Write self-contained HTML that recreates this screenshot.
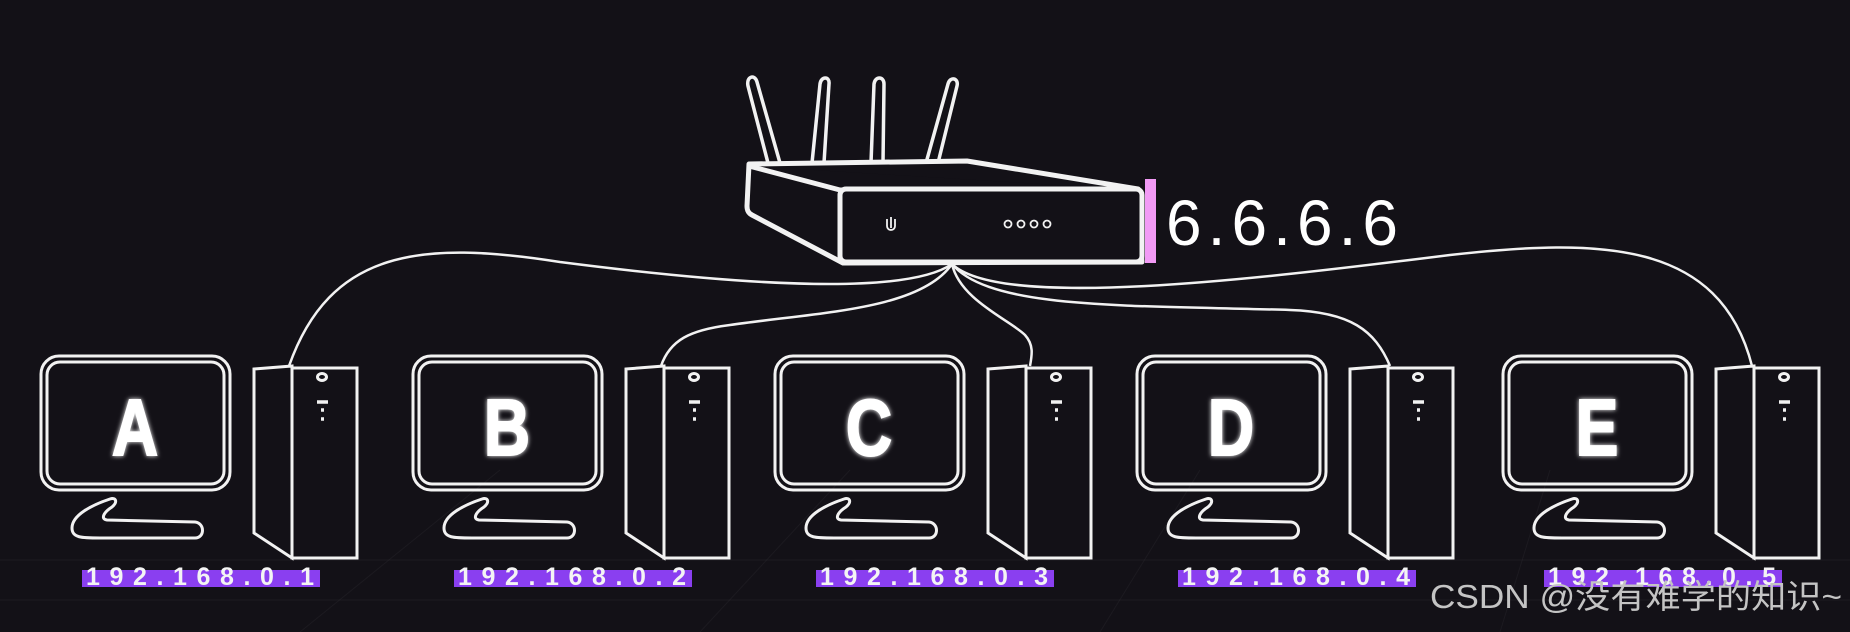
<!DOCTYPE html>
<html><head><meta charset="utf-8"><style>
html,body{margin:0;padding:0;background:#131117;}
svg{display:block}
</style></head><body>
<svg width="1850" height="632" viewBox="0 0 1850 632" xmlns="http://www.w3.org/2000/svg">
<defs>
<filter id="glow" x="-50%" y="-50%" width="200%" height="200%"><feGaussianBlur stdDeviation="2.5" result="b"/><feMerge><feMergeNode in="b"/><feMergeNode in="SourceGraphic"/></feMerge></filter>
<g id="pc" fill="none" stroke="#f2f2f2">
<rect x="41" y="356" width="189" height="134" rx="18" stroke-width="3"/>
<rect x="47" y="362" width="177" height="122" rx="13" stroke-width="3"/>
<path d="M110 499 C92 505 72 515 72 528 C72 538 82 538 100 538 L195 538 C205 538 205 523 195 522 L107 520 C100 519 104 512 112 507 C118 502 116 497 110 499 Z" stroke-width="3"/>
<path d="M254 369 L292 366 L292 558 L254 533 Z" stroke-width="3"/>
<rect x="292" y="368" width="65" height="190" stroke-width="3"/>
<ellipse cx="322" cy="377" rx="4.5" ry="3.5" stroke-width="3"/>
<line x1="317" y1="402" x2="328" y2="402" stroke-width="3.5"/>
<line x1="321" y1="410" x2="324" y2="410" stroke-width="3.5"/>
<line x1="321" y1="419" x2="324" y2="419" stroke-width="3.5"/>
<rect x="82" y="570" width="238" height="17" fill="#8a3ff0" stroke="none"/>
</g>
</defs>
<g stroke="#ffffff" stroke-opacity="0.04" stroke-width="1">
<line x1="300" y1="632" x2="500" y2="470"/><line x1="700" y1="632" x2="850" y2="470"/><line x1="1100" y1="632" x2="1200" y2="470"/><line x1="1500" y1="632" x2="1550" y2="470"/>
<line x1="0" y1="600" x2="1850" y2="600"/><line x1="0" y1="560" x2="1850" y2="560"/>
</g>
<!-- cables -->
<g fill="none" stroke="#f2f2f2" stroke-width="2.5">
<path d="M952 264 C900 300 700 280 560 262 C420 240 330 250 289 366"/>
<path d="M952 264 C920 310 820 312 730 325 C690 330 670 340 661 366"/>
<path d="M952 264 C960 300 1010 320 1025 335 C1034 345 1032 355 1030 366"/>
<path d="M952 264 C990 310 1130 305 1290 310 C1350 312 1375 330 1390 366"/>
<path d="M952 264 C1000 310 1250 280 1450 255 C1600 238 1720 240 1752 366"/>
</g>
<use href="#pc"/>
<use href="#pc" transform="translate(372,0)"/>
<use href="#pc" transform="translate(734,0)"/>
<use href="#pc" transform="translate(1096,0)"/>
<use href="#pc" transform="translate(1462,0)"/>
<g font-family="Liberation Sans, sans-serif" font-weight="bold" font-size="80" fill="#fff" stroke="#fff" stroke-width="2" filter="url(#glow)" text-anchor="middle">
<text transform="translate(135,455) scale(0.8,1)">A</text>
<text transform="translate(507,455) scale(0.8,1)">B</text>
<text transform="translate(869,455) scale(0.8,1)">C</text>
<text transform="translate(1231,455) scale(0.8,1)">D</text>
<text transform="translate(1597,455) scale(0.8,1)">E</text>
</g>
<g font-family="Liberation Sans, sans-serif" font-weight="bold" font-size="25" fill="#f4f4f4">
<text x="86" y="585" textLength="228" lengthAdjust="spacing">192.168.0.1</text>
<text x="458" y="585" textLength="228" lengthAdjust="spacing">192.168.0.2</text>
<text x="820" y="585" textLength="228" lengthAdjust="spacing">192.168.0.3</text>
<text x="1182" y="585" textLength="228" lengthAdjust="spacing">192.168.0.4</text>
<text x="1548" y="585" textLength="228" lengthAdjust="spacing">192.168.0.5</text>
</g>
<!-- router -->
<g fill="none" stroke="#f2f2f2" stroke-width="3.5" stroke-linejoin="round">
<path d="M768 163 L748 86 C746 76 755 74 757 82 L780 163"/>
<path d="M812 163 L820 84 C821 76 830 76 829 84 L824 163"/>
<path d="M871 163 L874 84 C875 76 884 76 884 84 L883 163"/>
<path d="M926 163 L948 84 C950 76 959 78 957 86 L938 163"/>
</g>
<g fill="#131117" stroke="#f2f2f2" stroke-width="5" stroke-linejoin="round">
<path d="M749 164 L967 161 L1138 189 L1142 262 L843 263 L752 215 C748 213 747 210 747 206 Z"/>
<path d="M749 166 L840 190 L1138 190"/>
<rect x="840" y="189" width="302" height="73" rx="6"/>
</g>
<g fill="none" stroke="#f2f2f2" stroke-width="1.8">
<path d="M887 219 L887 226 A4 4 0 0 0 895 226 L895 219"/><line x1="891" y1="217" x2="891" y2="228"/>
<circle cx="1008" cy="224" r="3.5"/><circle cx="1021" cy="224" r="3.5"/><circle cx="1034" cy="224" r="3.5"/><circle cx="1047" cy="224" r="3.5"/>
</g>
<rect x="1145" y="179" width="11" height="84" fill="#f29af5"/>
<text x="1166" y="245" font-family="Liberation Sans, sans-serif" font-size="64" fill="#fff" textLength="232" lengthAdjust="spacing">6.6.6.6</text>
<text x="1430" y="608" font-family="Liberation Sans, 'Noto Sans CJK SC', sans-serif" font-size="33" fill="#c4c4c4" textLength="412" lengthAdjust="spacingAndGlyphs">CSDN @没有难学的知识~</text>
</svg>
</body></html>
